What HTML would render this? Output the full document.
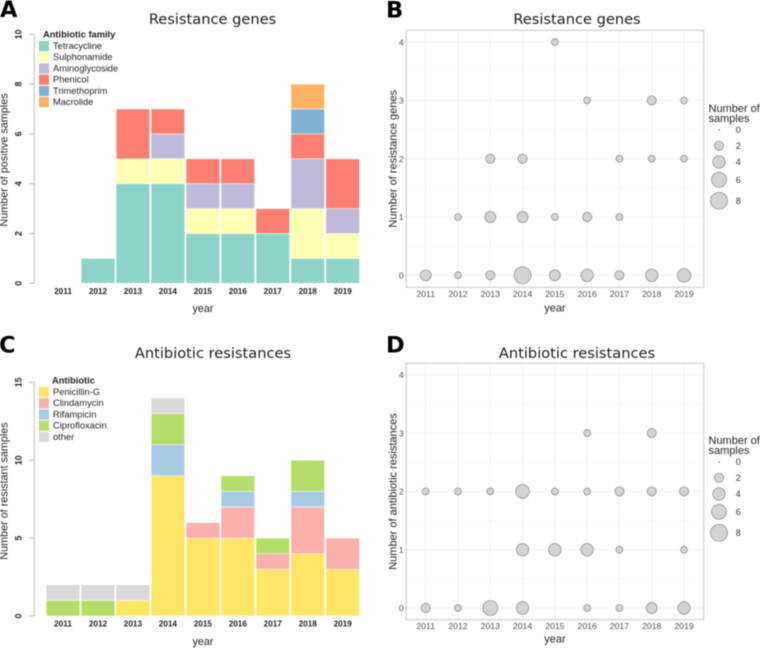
<!DOCTYPE html>
<html lang="en">
<head>
<meta charset="utf-8">
<title>Resistance genes and antibiotic resistances</title>
<style>
html,body{margin:0;padding:0;background:#fff;}
body{width:760px;height:648px;overflow:hidden;}
svg{display:block;filter:blur(0.4px);}
text{font-family:"Liberation Sans",sans-serif;fill:#222;}
.ttl{font-family:"DejaVu Sans",sans-serif;font-size:14.6px;text-anchor:middle;fill:#1a1a1a;}
.pl{font-family:"DejaVu Sans",sans-serif;font-weight:bold;font-size:22.5px;fill:#000;}
.yr{font-size:8.2px;font-weight:bold;text-anchor:middle;}
.yt{font-size:8.8px;font-weight:bold;text-anchor:middle;}
.ax{font-size:10.8px;text-anchor:middle;}
.lg{font-size:9.3px;}
.lgt{font-size:9.3px;font-weight:bold;}
.bt{font-size:8.7px;fill:#4d4d4d;}
.bl{font-size:11px;}
.bn{font-size:9px;fill:#333;}
</style>
</head>
<body>
<svg id="figure" width="760" height="648" viewBox="0 0 760 648" xmlns="http://www.w3.org/2000/svg"></svg>
<script>
var years = [2011, 2012, 2013, 2014, 2015, 2016, 2017, 2018, 2019];

var tetracycline = [0, 1, 4, 4, 2, 2, 2, 1, 1];
var sulphonamide = [0, 0, 1, 1, 1, 1, 0, 2, 1];
var aminoglycoside = [0, 0, 0, 1, 1, 1, 0, 2, 1];
var phenicol = [0, 0, 2, 1, 1, 1, 1, 1, 2];
var trimethoprim = [0, 0, 0, 0, 0, 0, 0, 1, 0];
var macrolide = [0, 0, 0, 0, 0, 0, 0, 1, 0];
var geneTicks = [0, 2, 4, 6, 8, 10];

var penicillin = [0, 0, 1, 9, 5, 5, 3, 4, 3];
var clindamycin = [0, 0, 0, 0, 1, 2, 1, 3, 2];
var rifampicin = [0, 0, 0, 2, 0, 1, 0, 1, 0];
var ciprofloxacin = [1, 1, 0, 2, 0, 1, 1, 2, 0];
var otherAntibiotic = [1, 1, 1, 1, 0, 0, 0, 0, 0];
var resistTicks = [0, 5, 10, 15];

var genes0 = [3, 1, 2, 8, 3, 4, 2, 4, 5];
var genes1 = [0, 1, 3, 3, 1, 2, 1, 0, 0];
var genes2 = [0, 0, 2, 2, 0, 0, 1, 1, 1];
var genes3 = [0, 0, 0, 0, 0, 1, 0, 2, 1];
var genes4 = [0, 0, 0, 0, 1, 0, 0, 0, 0];

var resist0 = [2, 1, 6, 4, 0, 1, 1, 3, 4];
var resist1 = [0, 0, 0, 4, 4, 4, 1, 0, 1];
var resist2 = [1, 1, 1, 5, 1, 1, 2, 2, 2];
var resist3 = [0, 0, 0, 0, 0, 1, 0, 2, 0];
var resist4 = [0, 0, 0, 0, 0, 0, 0, 0, 0];

var bubbleTicks = [0, 1, 2, 3, 4];
var sizeLegend = [0, 2, 4, 6, 8];

var svg = document.getElementById('figure');
var NS = 'http://www.w3.org/2000/svg';

function make(tag, attrs, parent, txt) {
  var el = document.createElementNS(NS, tag);
  for (var k in attrs) { el.setAttribute(k, attrs[k]); }
  if (txt !== undefined) { el.textContent = txt; }
  (parent || svg).appendChild(el);
  return el;
}
function slug(s) { return String(s).toLowerCase().replace(/[^a-z0-9]+/g, '-'); }

function label(txt, x, y, cls, name, rot) {
  var el = make('text', {x: x, y: y, 'class': cls}, svg, txt);
  if (rot) { el.setAttribute('transform', 'rotate(-90 ' + x + ' ' + y + ')'); }
  
  
  return el;
}

function stacked(cfg) {
  var barX = function (i) { return 63 + i * 34.96; };
  var barY = function (v) { return cfg.y0 - v * cfg.unit; };
  var axisTop = barY(cfg.ticks[cfg.ticks.length - 1]);
  var ax = make('path', {d: 'M34.3 ' + axisTop + 'V' + cfg.y0, stroke: '#c8c8c8', 'stroke-width': 1.2, fill: 'none'});
  
  
  cfg.ticks.forEach(function (t) {
    var y = barY(t);
    var tick = make('line', {x1: 29, x2: 34.3, y1: y, y2: y, stroke: '#b5b5b5', 'stroke-width': 1});
    
    
    label(t, 21.5, y, 'yt', cfg.id + '-y-tick-label', true);
  });
  years.forEach(function (yr, i) {
    label(yr, barX(i), cfg.y0 + 10.5, 'yr', cfg.id + '-x-tick-label');
    var total = 0;
    cfg.series.forEach(function (s) {
      var v = s.values[i];
      if (!v) { return; }
      var r = make('rect', {
        x: barX(i) - 16.8,
        y: barY(total + v),
        width: 33.6,
        height: v * cfg.unit,
        fill: s.color,
        stroke: '#fff',
        'stroke-width': 0.5
      });
      
      
      total += v;
    });
  });
  label(cfg.legendTitle, cfg.legendTitleX, cfg.legendTop - 3.5, 'lgt', cfg.id + '-legend-title');
  cfg.series.forEach(function (s, i) {
    var y = cfg.legendTop + i * 11.2;
    var sw = make('rect', {x: 39, y: y, width: 10, height: 10.2, fill: s.color});
    
    
    label(s.name, 53, y + 8, 'lg', cfg.id + '-legend-entry-' + slug(s.name));
  });
}

function radius(n) { return 0.7 + 7.8 * Math.sqrt(n / 8); }

function bubbles(cfg) {
  var L = 406.3, R = 703.7;
  var sx = function (i) { return 425.7 + i * 32.29; };
  var sy = function (v) { return cfg.y0 - v * 58.3; };
  var box = make('rect', {x: L, y: cfg.top, width: R - L, height: cfg.bottom - cfg.top, fill: '#fff', stroke: 'none'});
  
  
  bubbleTicks.forEach(function (t) {
    var g = make('line', {x1: L, x2: R, y1: sy(t), y2: sy(t), stroke: '#f0f0f0', 'stroke-width': 0.8});
    
    
    if (t < 4) {
      var m = make('line', {x1: L, x2: R, y1: sy(t + 0.5), y2: sy(t + 0.5), stroke: '#f6f6f6', 'stroke-width': 0.6});
      
      
    }
    var tl = label(t, L - 2.6, sy(t) + 3.2, 'bt', cfg.id + '-y-tick-label');
    tl.setAttribute('text-anchor', 'end');
    var tk = make('line', {x1: L - 2, x2: L, y1: sy(t), y2: sy(t), stroke: '#bbb', 'stroke-width': 0.8});
    
    
  });
  years.forEach(function (yr, i) {
    var g = make('line', {x1: sx(i), x2: sx(i), y1: cfg.top, y2: cfg.bottom, stroke: '#f0f0f0', 'stroke-width': 0.8});
    
    
    label(yr, sx(i), cfg.bottom + 9.5, 'bt', cfg.id + '-x-tick-label').setAttribute('text-anchor', 'middle');
  });
  cfg.rows.forEach(function (row, yv) {
    row.forEach(function (n, i) {
      if (!n) { return; }
      var c = make('circle', {cx: sx(i), cy: sy(yv), r: radius(n), fill: '#d3d3d3', stroke: '#858585', 'stroke-width': 0.7});
      
      
    });
  });
  var frame = make('rect', {x: L, y: cfg.top, width: R - L, height: cfg.bottom - cfg.top, fill: 'none', stroke: '#c4c4c4', 'stroke-width': 1});
  
  
  label('year', 555, cfg.bottom + cfg.xLabelGap, 'bl', cfg.id + '-x-axis-title').setAttribute('text-anchor', 'middle');
  var yt = label(cfg.yLabel, 396.5, (cfg.top + cfg.bottom) / 2, 'bl', cfg.id + '-y-axis-title', true);
  yt.setAttribute('text-anchor', 'middle');
  label('Number of', 708.5, cfg.legendY, 'bl', cfg.id + '-size-legend-title-line1');
  label('samples', 708.5, cfg.legendY + 10, 'bl', cfg.id + '-size-legend-title-line2');
  var legendPos = [18, 33.8, 50, 67.8, 88.8];
  sizeLegend.forEach(function (n, i) {
    var y = cfg.legendY + legendPos[i];
    var c = make('circle', {cx: 719, cy: y, r: n === 0 ? 0.5 : radius(n), fill: '#d3d3d3', stroke: '#858585', 'stroke-width': 0.7});
    
    
    label(n, 735.7, y + 3.2, 'bn', cfg.id + '-size-legend-label-' + n);
  });
}

stacked({
  id: 'panel-a',
  y0: 283.3,
  unit: 24.9,
  ticks: geneTicks,
  legendTitle: 'Antibiotic family',
  legendTitleX: 43,
  legendTop: 41,
  series: [
    {name: 'Tetracycline', color: '#8DD3C7', values: tetracycline},
    {name: 'Sulphonamide', color: '#FFFFB3', values: sulphonamide},
    {name: 'Aminoglycoside', color: '#BEBADA', values: aminoglycoside},
    {name: 'Phenicol', color: '#FB8072', values: phenicol},
    {name: 'Trimethoprim', color: '#80B1D3', values: trimethoprim},
    {name: 'Macrolide', color: '#FDB462', values: macrolide}
  ]
});
stacked({
  id: 'panel-c',
  y0: 616,
  unit: 15.58,
  ticks: resistTicks,
  legendTitle: 'Antibiotic',
  legendTitleX: 52,
  legendTop: 387,
  series: [
    {name: 'Penicillin-G', color: '#FFE566', values: penicillin},
    {name: 'Clindamycin', color: '#FBB0AC', values: clindamycin},
    {name: 'Rifampicin', color: '#A6CBE3', values: rifampicin},
    {name: 'Ciprofloxacin', color: '#B3DE69', values: ciprofloxacin},
    {name: 'other', color: '#D9D9D9', values: otherAntibiotic}
  ]
});
bubbles({
  id: 'panel-b',
  top: 30.3,
  bottom: 287.3,
  y0: 275.3,
  xLabelGap: 24,
  legendY: 112,
  yLabel: 'Number of resistance genes',
  rows: [genes0, genes1, genes2, genes3, genes4]
});
bubbles({
  id: 'panel-d',
  top: 363.3,
  bottom: 619.7,
  y0: 608,
  xLabelGap: 23,
  legendY: 444,
  yLabel: 'Number of antibiotic resistances',
  rows: [resist0, resist1, resist2, resist3, resist4]
});

label('Resistance genes', 212.5, 24, 'ttl', 'panel-a-title');
label('Resistance genes', 577, 24, 'ttl', 'panel-b-title');
label('Antibiotic resistances', 213, 358, 'ttl', 'panel-c-title');
label('Antibiotic resistances', 577, 358, 'ttl', 'panel-d-title');
label('A', 0, 17, 'pl', 'panel-a-letter');
label('B', 386, 17.3, 'pl', 'panel-b-letter');
label('C', -1, 352.7, 'pl', 'panel-c-letter');
label('D', 386, 352.7, 'pl', 'panel-d-letter');
label('year', 203, 312, 'ax', 'panel-a-x-axis-title');
label('year', 203, 645, 'ax', 'panel-c-x-axis-title');
label('Number of positive samples', 7.5, 160, 'ax', 'panel-a-y-axis-title', true);
label('Number of resistant samples', 7.5, 491, 'ax', 'panel-c-y-axis-title', true);
</script>
</body>
</html>
